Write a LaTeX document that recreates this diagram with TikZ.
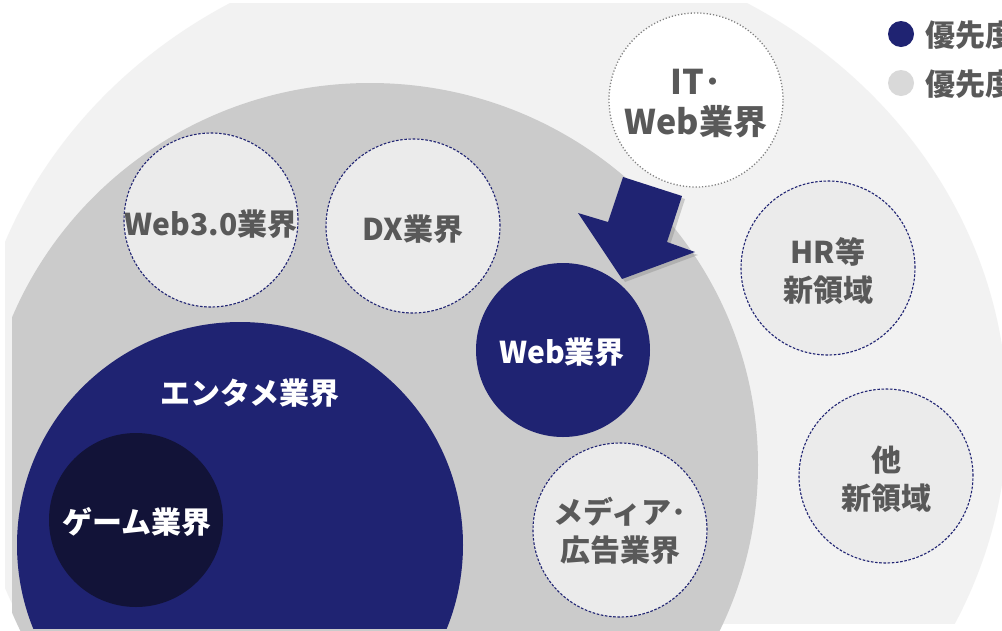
\documentclass[tikz,border=0pt]{standalone}
\usepackage{fontspec}
\setmainfont{Noto Sans CJK JP}
\usetikzlibrary{shadows}

\definecolor{navy}{HTML}{1F2372}
\definecolor{gamedark}{HTML}{121338}
\definecolor{bandlight}{HTML}{F2F2F2}
\definecolor{bandmid}{HTML}{CBCBCB}
\definecolor{ringfill}{HTML}{EBEBEB}
\definecolor{textgray}{HTML}{595959}
\definecolor{keygray}{HTML}{D9D9D9}

\tikzset{
  ring/.style={circle,minimum size=174pt,inner sep=0pt,fill=ringfill,draw=navy,line width=1.1pt,dash pattern=on 2.6pt off 1.6pt},
  itring/.style={circle,minimum size=174pt,inner sep=0pt,fill=white,draw=gray,line width=1.3pt,dash pattern=on 1.2pt off 2pt},
  lbl/.style={font=\fontsize{30}{38}\selectfont\bfseries,text=textgray,align=center,inner sep=0pt},
  wlbl/.style={font=\fontsize{30}{38}\selectfont\bfseries,text=white,align=center,inner sep=0pt},
  keydot/.style={circle,minimum size=26pt,inner sep=0pt}
}

\begin{document}
\begin{tikzpicture}[x=1pt,y=-1pt]
\clip (0,0) rectangle (1002,630);
\fill[white] (0,0) rectangle (1002,630);

\begin{scope}
\clip (5,3) rectangle (1002,623);
\fill[bandlight] (488.5,415) ellipse [x radius=519pt, y radius=475pt];
\end{scope}
\begin{scope}
\clip (12,0) rectangle (1002,630);
\fill[bandmid] (370,465) ellipse [x radius=388pt, y radius=382pt];
\end{scope}

\node[itring] (it) at (696,100) {};
\node[lbl,font=\fontsize{34}{40}\selectfont\bfseries] (ittxt) at (696,104) {IT･\\Web業界};
\node[ring] (web3) at (211,220) {};
\node[lbl] (web3txt) at (211,224) {Web3.0業界};
\node[ring] (dx) at (413,226) {};
\node[lbl] (dxtxt) at (413,229) {DX業界};
\node[ring] (hr) at (828,268) {};
\node[lbl] (hrtxt) at (828,271) {HR等\\新領域};
\node[ring] (other) at (886,476) {};
\node[lbl] (othertxt) at (886,479) {他\\新領域};
\node[ring] (media) at (620,530) {};
\node[lbl] (mediatxt) at (620,531) {メディア･\\広告業界};

\begin{scope}
\clip (0,0) rectangle (1002,628);
\fill[navy] (240,545) circle (223pt);
\end{scope}
\node[wlbl] (enttxt) at (250,393) {エンタメ業界};
\node[circle,fill=gamedark,minimum size=174pt,inner sep=0pt] (game) at (136,520) {};
\node[wlbl] (gametxt) at (137,522) {ゲーム業界};
\node[circle,fill=navy,minimum size=174pt,inner sep=0pt] (web) at (563,350) {};
\node[wlbl] (webtxt) at (562,352) {Web業界};

\fill[navy,drop shadow={opacity=0.35,shadow xshift=3pt,shadow yshift=-3pt}]
  (623,177) -- (682,196) -- (667,242) -- (695,252) -- (622,279) -- (578,213) -- (608,222) -- cycle;

\node[keydot,draw=navy,line width=1.2pt,fill=white] (keytop) at (901,-14) {};
\node[keydot,fill=navy] (keyhigh) at (901,34) {};
\node[lbl,anchor=west] (keyhightxt) at (925,35) {優先度};
\node[keydot,fill=keygray] (keylow) at (901,83) {};
\node[lbl,anchor=west] (keylowtxt) at (925,84) {優先度};

\end{tikzpicture}
\end{document}
